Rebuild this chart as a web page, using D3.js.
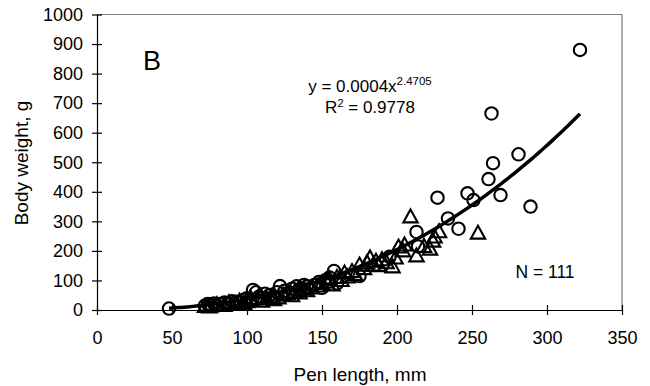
<!DOCTYPE html>
<html>
<head>
<meta charset="utf-8">
<script src="https://cdn.jsdelivr.net/npm/d3@7"></script>
<style>
	body { margin: 0; background: #fff; }
	svg { font-family: "Liberation Sans", Arial, sans-serif; }
	.axis text { font-size: 18px; fill: #000; }
	.axis path, .axis line { stroke: #000; stroke-width: 1.2; }
</style>
</head>
<body>
<svg id="chart" width="650" height="386"></svg>
<script>
// open circles (pen length mm, body weight g)
const circleLength = [48, 72, 74, 76, 78, 80, 82, 85, 88, 90, 93, 95, 98, 100, 102, 104, 106, 108, 110, 112,
	115, 118, 120, 122, 125, 128, 130, 133, 135, 138, 140, 145, 148, 150, 152, 155, 158, 160, 175, 195,
	213, 214, 227, 234, 241, 247, 251, 261, 263, 264, 269, 281, 289, 322];
const circleWeight = [5, 15, 20, 18, 22, 15, 20, 25, 22, 30, 28, 25, 35, 40, 30, 68, 60, 45, 40, 55,
	50, 45, 60, 81, 65, 60, 72, 80, 70, 85, 80, 85, 95, 75, 100, 110, 132, 90, 115, 180,
	264, 215, 380, 310, 275, 395, 372, 443, 665, 497, 389, 527, 350, 880];

// open triangles
const triLength = [72, 75, 80, 85, 88, 92, 95, 98, 100, 103, 107, 110, 113, 116, 118, 121, 124, 127, 130, 132,
	135, 138, 140, 143, 147, 150, 153, 155, 157, 160, 163, 165, 167, 170, 172, 175, 178, 180, 182, 184,
	186, 188, 190, 193, 197, 199, 201, 204, 205, 209, 213, 218, 222, 224, 225, 228, 254];
const triWeight = [12, 10, 18, 15, 25, 20, 30, 22, 28, 35, 40, 30, 38, 45, 35, 41, 50, 55, 48, 62,
	58, 70, 65, 75, 81, 90, 95, 105, 85, 110, 100, 125, 112, 130, 120, 152, 140, 160, 176, 152,
	165, 150, 170, 160, 146, 176, 213, 200, 220, 315, 183, 215, 206, 233, 247, 265, 260];

// power trend line y = a * x^b
const fitA = 0.000423;
const fitB = 2.4705;
const fitRange = [48, 322];

const xTicks = [0, 50, 100, 150, 200, 250, 300, 350];
const yTicks = [0, 100, 200, 300, 400, 500, 600, 700, 800, 900, 1000];

const svg = d3.select('#chart');
const x = d3.scaleLinear().domain([0, 350]).range([97, 622]);
const y = d3.scaleLinear().domain([0, 1000]).range([310, 14.5]);

// frame top / right
svg.append('path')
	.attr('d', 'M' + x(0) + ',' + y(1000) + 'H' + x(350) + 'V' + y(0))
	.attr('fill', 'none')
	.attr('stroke', '#7a7a7a')
	.attr('stroke-width', 1.2);

let xAxis = svg.append('g')
	.attr('class', 'axis')
	.attr('transform', 'translate(0,' + y(0) + ')')
	.call(d3.axisBottom(x).tickValues(xTicks).tickFormat(d3.format('d'))
		.tickSize(5).tickSizeOuter(0).tickPadding(16));
xAxis.selectAll('.tick line').attr('y1', -5).attr('y2', 5);

let yAxis = svg.append('g')
	.attr('class', 'axis')
	.attr('transform', 'translate(' + x(0) + ',0)')
	.call(d3.axisLeft(y).tickValues(yTicks).tickFormat(d3.format('d'))
		.tickSize(5).tickSizeOuter(0).tickPadding(9));
yAxis.selectAll('.tick line').attr('x1', 5).attr('x2', -5);

// markers
svg.append('g').selectAll('circle')
	.data(d3.zip(circleLength, circleWeight))
	.enter().append('circle')
	.attr('cx', (d) => x(d[0]))
	.attr('cy', (d) => y(d[1]))
	.attr('r', 6.2)
	.attr('fill', 'none')
	.attr('stroke', '#000')
	.attr('stroke-width', 2.1);

svg.append('g').selectAll('path')
	.data(d3.zip(triLength, triWeight))
	.enter().append('path')
	.attr('transform', (d) => 'translate(' + x(d[0]) + ',' + y(d[1]) + ')')
	.attr('d', 'M0,-7.5L7.2,5.5L-7.2,5.5Z')
	.attr('fill', 'none')
	.attr('stroke', '#000')
	.attr('stroke-width', 2.1);

// trend line
let fitX = d3.range(fitRange[0], fitRange[1] + 0.5, 2);
svg.append('path')
	.datum(fitX)
	.attr('d', d3.line().x((d) => x(d)).y((d) => y(fitA * Math.pow(d, fitB))))
	.attr('fill', 'none')
	.attr('stroke', '#000')
	.attr('stroke-width', 3.5);

// annotations
svg.append('text')
	.attr('x', 143).attr('y', 70)
	.attr('font-size', 27)
	.text('B');

let eq = svg.append('text')
	.attr('x', 370).attr('y', 92)
	.attr('text-anchor', 'middle')
	.attr('font-size', 17);
eq.append('tspan').text('y = 0.0004x');
eq.append('tspan').attr('font-size', 11.5).attr('dy', -7).text('2.4705');

let r2 = svg.append('text')
	.attr('x', 370).attr('y', 113)
	.attr('text-anchor', 'middle')
	.attr('font-size', 17);
r2.append('tspan').text('R');
r2.append('tspan').attr('font-size', 11).attr('dy', -6).text('2');
r2.append('tspan').attr('dy', 6).text(' = 0.9778');

svg.append('text')
	.attr('x', 545).attr('y', 278)
	.attr('text-anchor', 'middle')
	.attr('font-size', 17.5)
	.text('N = 111');

svg.append('text')
	.attr('x', 360).attr('y', 381)
	.attr('text-anchor', 'middle')
	.attr('font-size', 19)
	.text('Pen length, mm');

svg.append('text')
	.attr('transform', 'translate(28,163) rotate(-90)')
	.attr('text-anchor', 'middle')
	.attr('font-size', 19)
	.text('Body weight, g');
</script>
</body>
</html>
